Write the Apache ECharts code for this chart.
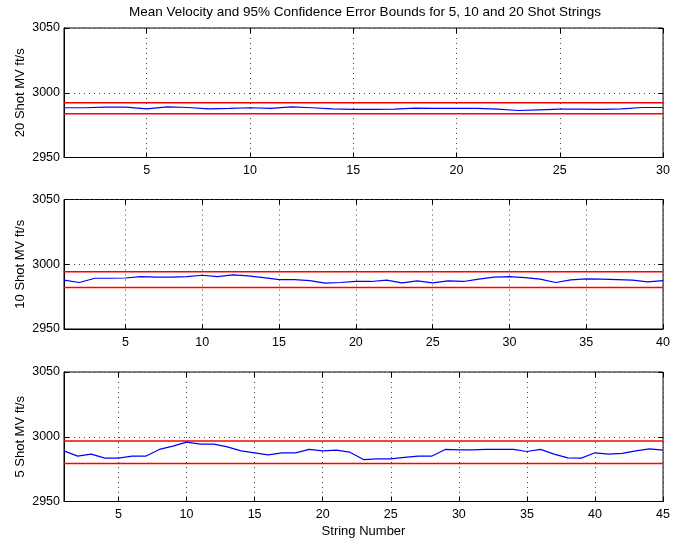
<!DOCTYPE html>
<html><head><meta charset="utf-8">
<script src="https://cdn.jsdelivr.net/npm/echarts@6/dist/echarts.min.js"></script>
<style>html,body{margin:0;padding:0;background:#fff}#c{width:673px;height:540px}</style>
</head><body><div id="c"></div>
<script>
const titleText = 'Mean Velocity and 95% Confidence Error Bounds for 5, 10 and 20 Shot Strings';
const xAxisName = 'String Number';
const panelNames = ['20 Shot MV ft/s', '10 Shot MV ft/s', '5 Shot MV ft/s'];
const yMin = 2950, yMax = 3050, yStep = 50;

const mv20 = [2988.4, 2988.4, 2988.9, 2988.9, 2987.6, 2989.1, 2988.6, 2987.6, 2987.9, 2988.4,
              2987.9, 2989.1, 2988.4, 2987.6, 2987.1, 2987.1, 2987.3, 2988.1, 2987.9, 2987.9,
              2987.9, 2987.3, 2986.3, 2986.8, 2987.3, 2987.3, 2987.1, 2987.6, 2988.6, 2988.6];
const mv10 = [2987.7, 2985.9, 2989.2, 2989.2, 2989.4, 2990.5, 2990.0, 2990.0, 2990.5, 2991.5,
              2990.5, 2991.8, 2991.0, 2989.7, 2988.2, 2988.2, 2987.4, 2985.4, 2985.9, 2986.7,
              2986.7, 2987.7, 2985.6, 2987.2, 2985.6, 2987.2, 2986.7, 2988.5, 2990.0, 2990.5,
              2989.7, 2988.5, 2985.9, 2988.0, 2988.7, 2988.5, 2988.2, 2987.7, 2986.4, 2987.4];
const mv5 = [2989.1, 2985.0, 2986.6, 2983.5, 2983.5, 2985.0, 2985.0, 2990.2, 2992.8, 2995.9,
             2994.3, 2994.3, 2992.2, 2989.1, 2987.6, 2986.0, 2987.6, 2987.6, 2990.2, 2989.1,
             2989.7, 2988.1, 2982.4, 2982.9, 2982.9, 2984.0, 2985.0, 2985.0, 2990.2, 2989.9,
             2989.9, 2990.2, 2990.2, 2990.2, 2988.6, 2990.2, 2986.6, 2983.7, 2983.5, 2987.6,
             2986.6, 2987.1, 2989.1, 2990.7, 2989.7];
const upperBound = [2992.3, 2994.3, 2996.7];
const lowerBound = [2983.7, 2982.1, 2979.3];

const panels = [mv20, mv10, mv5];
const splitNums = [6, 8, 9];
const tops = [28, 199.5, 372];
const panelH = 129.5;
const font = "'Liberation Sans', Arial, Helvetica, sans-serif";

const grids = [], xAxes = [], yAxes = [], series = [];
panels.forEach((vals, p) => {
  grids.push({ left: 64, right: 7, top: tops[p], height: panelH, show: true,
    borderColor: '#000', borderWidth: 1, backgroundColor: '#fff' });
  const n = vals.length;
  const dotted = { show: true, lineStyle: { color: '#444', width: 1, type: [1, 4] } };
  xAxes.push({ type: 'value', gridIndex: p, min: 1, max: n, splitNumber: splitNums[p], position: 'bottom',
    axisLine: { show: true, lineStyle: { color: '#000' } },
    axisTick: { show: true, inside: true, length: 5, lineStyle: { color: '#000' } },
    axisLabel: { showMinLabel: false, color: '#000', fontSize: 12.5, fontFamily: font, margin: 7 },
    splitLine: dotted,
    name: p === 2 ? xAxisName : '', nameLocation: 'middle', nameGap: 23, nameMoveOverlap: false,
    nameTextStyle: { color: '#000', fontSize: 13, fontFamily: font } });
  xAxes.push({ type: 'value', gridIndex: p, min: 1, max: n, splitNumber: splitNums[p], position: 'top',
    axisLine: { show: false }, axisLabel: { show: false }, splitLine: { show: false },
    axisTick: { show: true, inside: true, length: 5, lineStyle: { color: '#000' } } });
  yAxes.push({ type: 'value', gridIndex: p, min: yMin, max: yMax, interval: yStep, position: 'left',
    axisLine: { show: true, lineStyle: { color: '#000' } },
    axisTick: { show: true, inside: true, length: 5, lineStyle: { color: '#000' } },
    axisLabel: { color: '#000', fontSize: 12.5, fontFamily: font, margin: 4, formatter: v => String(v) },
    splitLine: dotted,
    name: panelNames[p], nameLocation: 'middle', nameGap: 37, nameRotate: 90, nameMoveOverlap: false,
    nameTextStyle: { color: '#000', fontSize: 13, fontFamily: font } });
  yAxes.push({ type: 'value', gridIndex: p, min: yMin, max: yMax, interval: yStep, position: 'right',
    axisLine: { show: false }, axisLabel: { show: false }, splitLine: { show: false },
    axisTick: { show: true, inside: true, length: 5, lineStyle: { color: '#000' } } });
  [upperBound[p], lowerBound[p]].forEach(b => {
    series.push({ type: 'line', xAxisIndex: 2 * p, yAxisIndex: 2 * p, showSymbol: false, silent: true,
      data: [[1, b], [n, b]], lineStyle: { color: '#ff0000', width: 1.5 }, itemStyle: { color: '#ff0000' }, z: 2 });
  });
  series.push({ type: 'line', xAxisIndex: 2 * p, yAxisIndex: 2 * p, showSymbol: false, silent: true,
    data: vals.map((v, i) => [i + 1, v]),
    lineStyle: { color: '#0000ff', width: 1.2 }, itemStyle: { color: '#0000ff' }, z: 3 });
});

const chart = echarts.init(document.getElementById('c'), null, { renderer: 'canvas' });
chart.setOption({
  animation: false,
  backgroundColor: '#fff',
  title: { text: titleText, left: 365, textAlign: 'center', top: 5, padding: 0,
    textStyle: { color: '#000', fontSize: 13.5, fontWeight: 'normal', fontFamily: font } },
  grid: grids, xAxis: xAxes, yAxis: yAxes, series: series
});
</script></body></html>
